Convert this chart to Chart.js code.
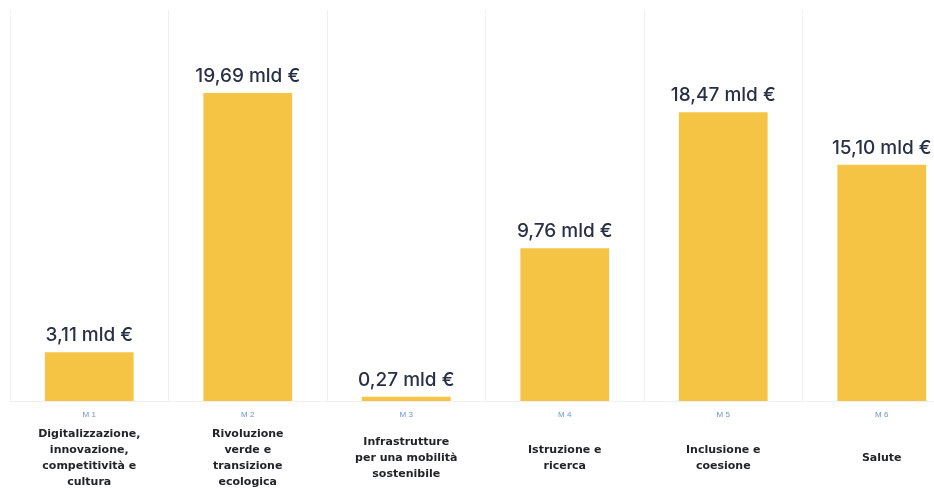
<!DOCTYPE html>
<html>
<head>
<meta charset="utf-8">
<script src="https://cdn.jsdelivr.net/npm/chart.js@4.4.1/dist/chart.umd.min.js"></script>
<style>
  html, body { margin: 0; padding: 0; background: #ffffff; overflow: hidden; }
  #wrap { position: relative; width: 972px; height: 489px; }
</style>
</head>
<body>
<div id="wrap"><canvas id="chart"></canvas></div>
<script>
// Missioni PNRR: risorse assegnate (miliardi di euro)
const missionCodes = ['M 1', 'M 2', 'M 3', 'M 4', 'M 5', 'M 6'];
const missionNames = [
  ['Digitalizzazione,', 'innovazione,', 'competitività e', 'cultura'],
  ['Rivoluzione', 'verde e', 'transizione', 'ecologica'],
  ['Infrastrutture', 'per una mobilità', 'sostenibile'],
  ['Istruzione e', 'ricerca'],
  ['Inclusione e', 'coesione'],
  ['Salute']
];
const amounts = [3.11, 19.69, 0.27, 9.76, 18.47, 15.10];
const unitSuffix = ' mld €';

const formatAmount = v => v.toFixed(2).replace('.', ',') + unitSuffix;

// Writes the amount above each bar
const valueLabels = {
  id: 'valueLabels',
  afterDatasetsDraw(chart) {
    const ctx = chart.ctx;
    const meta = chart.getDatasetMeta(0);
    ctx.save();
    ctx.font = '500 19px "Inter", "Liberation Sans", sans-serif';
    ctx.fillStyle = '#283048';
    ctx.textAlign = 'center';
    ctx.textBaseline = 'alphabetic';
    meta.data.forEach((bar, i) => {
      ctx.fillText(formatAmount(amounts[i]), bar.x, bar.y - 11);
    });
    ctx.restore();
  }
};

new Chart(document.getElementById('chart'), {
  type: 'bar',
  data: {
    labels: missionCodes,
    datasets: [{
      data: amounts,
      backgroundColor: '#f6c445',
      borderWidth: 0,
      categoryPercentage: 0.8,
      barPercentage: 0.7
    }]
  },
  options: {
    responsive: true,
    maintainAspectRatio: false,
    animation: false,
    layout: { padding: { left: 10, right: 11, top: 10, bottom: 0 } },
    plugins: { legend: { display: false }, tooltip: { enabled: false } },
    scales: {
      y: { display: false, min: 0, max: 25 },
      x: {
        weight: 0,
        grid: { color: '#eef0f4', lineWidth: 1, drawTicks: false, offset: true },
        border: { display: true, color: '#eef0f4' },
        ticks: { color: '#6b93d2', font: { family: 'Liberation Sans', size: 8 }, padding: 9 },
        afterFit(scale) { scale.height = 22; }
      },
      x2: {
        type: 'category',
        position: 'bottom',
        weight: 1,
        labels: missionNames,
        grid: { display: false },
        border: { display: false },
        ticks: {
          color: '#222428',
          crossAlign: 'center',
          padding: 3,
          font: { family: 'DejaVu Sans', size: 11, weight: 'bold', lineHeight: 1.45 }
        },
        afterFit(scale) { scale.height = 66; }
      }
    }
  },
  plugins: [valueLabels]
});
</script>
</body>
</html>
